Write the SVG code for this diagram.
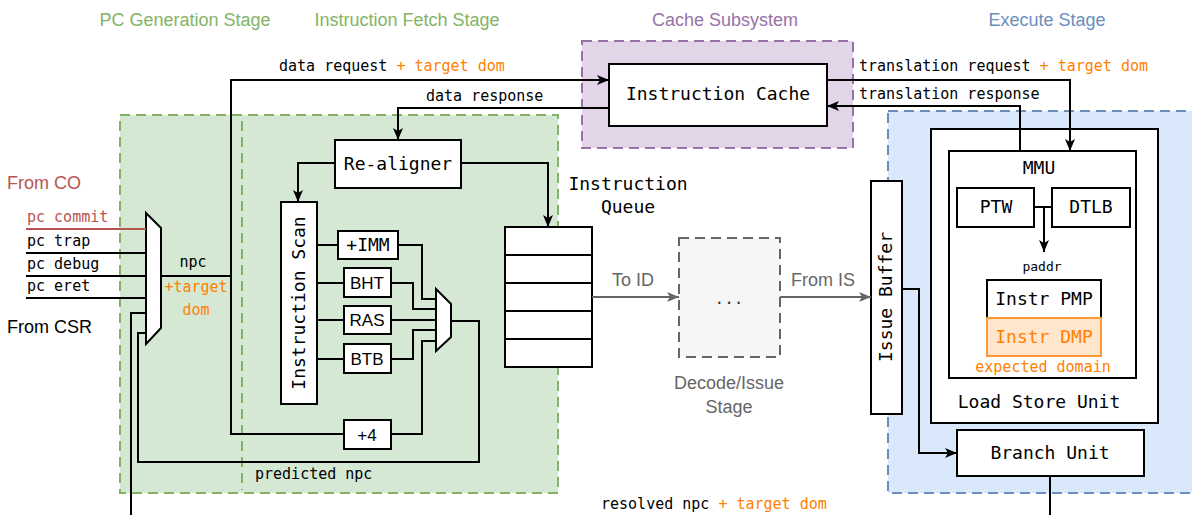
<svg xmlns="http://www.w3.org/2000/svg" width="1192" height="515" viewBox="0 0 1192 515">
<style>
.mono{font-family:"DejaVu Sans Mono","Liberation Mono",monospace;}
.sans{font-family:"Liberation Sans",Arial,sans-serif;}
.box{fill:#fff;stroke:#000;stroke-width:2;}
.w{fill:none;stroke:#000;stroke-width:2;}
.g{fill:none;stroke:#666;stroke-width:2;}
.t18{font-size:18px;}
.t15{font-size:15px;}
.or{fill:#ff8000;}
.title{font-size:18px;text-anchor:middle;}
</style>
<defs>
<marker id="arr" viewBox="0 0 12 10" refX="12" refY="5" markerWidth="12" markerHeight="10" markerUnits="userSpaceOnUse" orient="auto"><path d="M0,0 L12,5 L0,10 L3,5 z" fill="#000"/></marker>
<marker id="arrg" viewBox="0 0 12 10" refX="12" refY="5" markerWidth="12" markerHeight="10" markerUnits="userSpaceOnUse" orient="auto"><path d="M0,0 L12,5 L0,10 L3,5 z" fill="#666"/></marker>
</defs>
<rect width="1192" height="515" fill="#fff"/>

<g id="stages">
<rect x="120" y="115" width="438" height="378" fill="#d5e8d4" stroke="#82b366" stroke-width="2" stroke-dasharray="10 6"/>
<line x1="242" y1="121" x2="242" y2="490" stroke="#82b366" stroke-width="2" stroke-dasharray="10 6"/>
<rect x="582" y="41" width="271" height="107" fill="#e1d5e7" stroke="#9673a6" stroke-width="2" stroke-dasharray="10 6"/>
<rect x="888" y="111" width="320" height="382" fill="#dae8fc" stroke="#6c8ebf" stroke-width="2" stroke-dasharray="10 6"/>
<text class="sans title" x="185" y="26" fill="#82b366">PC Generation Stage</text>
<text class="sans title" x="407" y="26" fill="#82b366">Instruction Fetch Stage</text>
<text class="sans title" x="725" y="26" fill="#9673a6">Cache Subsystem</text>
<text class="sans title" x="1047" y="26" fill="#6c8ebf">Execute Stage</text>
</g>

<g id="mux-pc">
<polygon points="146,213 161,228 161,328 146,344" class="box"/>
</g>
<g id="mux-fetch">
<polygon points="436,289 451,304 451,337 436,351" class="box"/>
</g>

<g id="instruction-cache">
<rect x="609" y="64" width="218" height="62" class="box"/>
<text class="mono t18" x="718" y="100" text-anchor="middle">Instruction Cache</text>
</g>

<g id="re-aligner">
<rect x="335" y="140" width="126" height="48" class="box"/>
<text class="mono t18" x="398" y="170" text-anchor="middle">Re-aligner</text>
</g>

<g id="instruction-scan">
<rect x="281" y="202" width="36" height="202" class="box"/>
<text class="mono t18" transform="translate(305,303) rotate(-90)" text-anchor="middle">Instruction Scan</text>
</g>

<g id="imm">
<rect x="338" y="231" width="60" height="28" class="box"/>
<text class="mono t18" x="368" y="251" text-anchor="middle">+IMM</text>
</g>
<g id="bht">
<rect x="344" y="268" width="47" height="29" class="box"/>
<text class="sans" font-size="17" x="367" y="289" text-anchor="middle">BHT</text>
</g>
<g id="ras">
<rect x="344" y="306" width="47" height="28" class="box"/>
<text class="sans" font-size="17" x="367" y="326" text-anchor="middle">RAS</text>
</g>
<g id="btb">
<rect x="344" y="344" width="47" height="29" class="box"/>
<text class="sans" font-size="17" x="367" y="365" text-anchor="middle">BTB</text>
</g>
<g id="plus4">
<rect x="344" y="420" width="47" height="29" class="box"/>
<text class="sans" font-size="17" x="367" y="441" text-anchor="middle">+4</text>
</g>

<g id="instruction-queue">
<rect x="505" y="227" width="87" height="140" class="box"/>
<path class="w" d="M505,255 H592 M505,283 H592 M505,311 H592 M505,339 H592"/>
<text class="mono t18" x="628" y="190" text-anchor="middle">Instruction</text>
<text class="mono t18" x="628" y="213" text-anchor="middle">Queue</text>
</g>

<g id="decode-issue">
<rect x="679" y="238" width="101" height="119" fill="#f5f5f5" stroke="#666" stroke-width="2" stroke-dasharray="10 6"/>
<text class="mono" font-size="16" x="729" y="304" fill="#333" text-anchor="middle">...</text>
<text class="sans t18" x="729" y="389" fill="#666" text-anchor="middle">Decode/Issue</text>
<text class="sans t18" x="729" y="413" fill="#666" text-anchor="middle">Stage</text>
</g>

<g id="issue-buffer">
<rect x="871" y="181" width="31" height="233" class="box"/>
<text class="mono t18" transform="translate(892,297) rotate(-90)" text-anchor="middle">Issue Buffer</text>
</g>

<g id="load-store-unit">
<rect x="931" y="129" width="227" height="294" class="box"/>
<text class="mono t18" x="1039" y="408" text-anchor="middle">Load Store Unit</text>
</g>
<g id="mmu">
<rect x="949" y="151" width="187" height="227" class="box"/>
<text class="mono t18" x="1039" y="174" text-anchor="middle">MMU</text>
</g>
<g id="ptw">
<rect x="957" y="188" width="77" height="39" class="box"/>
<text class="mono t18" x="996" y="213" text-anchor="middle">PTW</text>
</g>
<g id="dtlb">
<rect x="1052" y="188" width="78" height="39" class="box"/>
<text class="mono t18" x="1091" y="213" text-anchor="middle">DTLB</text>
</g>
<g id="instr-pmp">
<rect x="987" y="280" width="114" height="38" class="box"/>
<text class="mono t18" x="1044" y="305" text-anchor="middle">Instr PMP</text>
</g>
<g id="instr-dmp">
<rect x="987" y="318" width="114" height="38" fill="#ffe6cc" stroke="#ff9933" stroke-width="2"/>
<text class="mono t18 or" x="1044" y="343" text-anchor="middle">Instr DMP</text>
<text class="mono t15 or" x="1043" y="372" text-anchor="middle">expected domain</text>
</g>
<g id="branch-unit">
<rect x="957" y="430" width="187" height="46" class="box"/>
<text class="mono t18" x="1050" y="459" text-anchor="middle">Branch Unit</text>
</g>

<g id="connectors">
<path class="w" d="M161,276 H231"/>
<path class="w" d="M344,434 H231 V80 H609" marker-end="url(#arr)"/>
<path class="w" d="M391,434 H422 V341 H436"/>
<path class="w" d="M398,245 H422 V299 H436"/>
<path class="w" d="M391,283 H413 V309 H436"/>
<path class="w" d="M391,320 H436"/>
<path class="w" d="M391,359 H413 V330 H436"/>
<path class="w" d="M317,245 H338 M317,283 H344 M317,320 H344 M317,359 H344"/>
<path class="w" d="M451,321 H479 V462 H138 V333 H146"/>
<path class="w" d="M131,515 V313 H146"/>
<path d="M26,229 H146" fill="none" stroke="#b85450" stroke-width="2"/>
<path class="w" d="M26,253 H146 M26,276 H146 M26,298 H146"/>
<path class="w" d="M609,108 H398 V140" marker-end="url(#arr)"/>
<path class="w" d="M335,163 H298 V202" marker-end="url(#arr)"/>
<path class="w" d="M461,163 H548 V227" marker-end="url(#arr)"/>
<path class="g" d="M592,297 H679" marker-end="url(#arrg)"/>
<path class="g" d="M780,297 H871" marker-end="url(#arrg)"/>
<path class="w" d="M827,80 H1070 V151" marker-end="url(#arr)"/>
<path class="w" d="M1020,151 V106 H827" marker-end="url(#arr)"/>
<path class="w" d="M1034,207 H1052"/>
<path class="w" d="M1044,207 V252" marker-end="url(#arr)"/>
<path class="w" d="M902,289 H919 V453 H957" marker-end="url(#arr)"/>
<path class="w" d="M1050,476 V515"/>
<text class="mono t15" x="279" y="71"><tspan>data request</tspan><tspan class="or"> + target dom</tspan></text>
<text class="mono t15" x="426" y="101">data response</text>
<text class="mono t15" x="859" y="71"><tspan>translation request</tspan><tspan class="or"> + target dom</tspan></text>
<text class="mono t15" x="859" y="99">translation response</text>
<text class="mono t15" x="193" y="267" text-anchor="middle">npc</text>
<text class="mono t15 or" x="196" y="292" text-anchor="middle">+target</text>
<text class="mono t15 or" x="196" y="315" text-anchor="middle">dom</text>
<text class="mono t15" x="255" y="479">predicted npc</text>
<text class="mono t15" x="601" y="509"><tspan>resolved npc</tspan><tspan class="or"> + target dom</tspan></text>
<text class="mono t15" x="27" y="222" fill="#b85450">pc commit</text>
<text class="mono t15" x="27" y="246">pc trap</text>
<text class="mono t15" x="27" y="269">pc debug</text>
<text class="mono t15" x="27" y="291">pc eret</text>
<text class="sans t18" x="7" y="189" fill="#b85450">From CO</text>
<text class="sans t18" x="7" y="333">From CSR</text>
<text class="sans t18" x="633" y="286" fill="#666" text-anchor="middle">To ID</text>
<text class="sans t18" x="823" y="286" fill="#666" text-anchor="middle">From IS</text>
<text class="mono" x="1042" y="271" font-size="13" text-anchor="middle">paddr</text>
</g>
</svg>
